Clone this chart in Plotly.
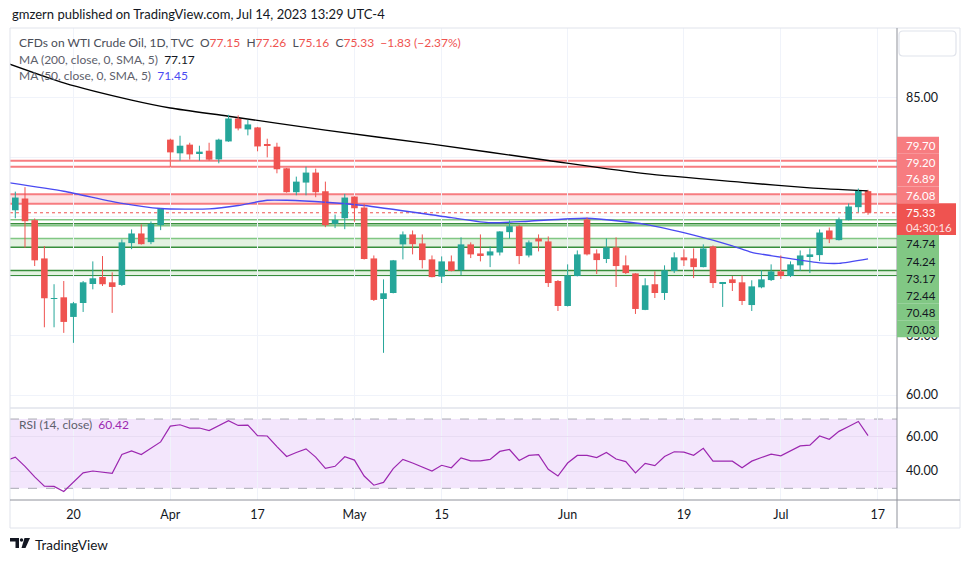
import plotly.graph_objects as go

# ---------------- data ----------------
bar_idx = list(range(89))  # trading days Mar 10 2023 ... Jul 14 2023
opens = [75.54, 76.53, 74.71, 71.49, 68.08, 68.22, 66.57, 67.74, 69.34, 69.93,
         69.48, 69.26, 72.78, 73.59, 72.86, 74.29, 81.48, 80.33, 81.06, 80.33,
         80.55, 79.82, 81.33, 83.26, 82.34, 82.51, 81.06, 80.89, 79.07, 77.06,
         77.87, 78.71, 77.14, 74.40, 74.87, 76.69, 75.77, 71.49, 68.08, 68.58,
         72.67, 73.51, 72.75, 71.41, 69.96, 71.24, 70.51, 72.67, 71.91, 71.74,
         71.99, 73.70, 74.20, 71.74, 73.17, 72.92, 69.59, 67.49, 70.01, 74.77,
         71.91, 71.44, 72.42, 70.91, 70.23, 67.16, 69.32, 68.58, 70.43, 71.58,
         71.49, 70.76, 72.50, 69.42, 69.73, 69.48, 67.57, 69.06, 69.67, 70.40,
         70.01, 70.91, 71.69, 71.77, 73.84, 73.03, 74.71, 75.80, 77.15]
highs = [77.11, 77.48, 74.85, 72.53, 69.32, 69.59, 67.83, 69.59, 71.24, 71.69,
         70.32, 73.09, 73.93, 74.35, 74.60, 75.69, 81.56, 81.81, 81.22, 80.97,
         81.22, 81.56, 83.57, 83.52, 83.15, 82.55, 81.56, 81.22, 79.10, 78.37,
         79.21, 79.04, 77.95, 75.18, 76.92, 76.72, 76.08, 71.74, 69.73, 71.36,
         73.76, 73.84, 73.51, 71.74, 71.66, 71.74, 73.26, 72.84, 73.51, 72.50,
         73.78, 74.68, 74.32, 73.00, 73.51, 73.34, 69.67, 70.99, 72.16, 74.93,
         72.25, 73.17, 73.26, 71.74, 70.25, 69.82, 70.40, 70.91, 72.00, 72.25,
         72.33, 72.67, 72.58, 69.51, 70.01, 70.07, 69.65, 70.49, 70.99, 71.74,
         71.24, 72.16, 72.33, 73.93, 74.09, 74.93, 76.11, 77.37, 77.26]
lows = [74.87, 72.39, 70.85, 65.70, 65.70, 65.23, 64.39, 66.99, 68.89, 69.17,
        66.91, 69.17, 72.27, 72.65, 72.69, 73.87, 79.15, 79.71, 79.80, 79.71,
        79.71, 79.49, 81.30, 82.26, 81.84, 80.50, 79.99, 78.65, 77.02, 76.80,
        76.80, 76.64, 74.12, 74.04, 73.95, 74.57, 71.40, 67.91, 63.55, 68.55,
        71.41, 71.83, 70.65, 69.90, 69.42, 70.40, 70.09, 71.52, 71.24, 70.76,
        71.74, 73.17, 71.01, 71.58, 72.08, 69.09, 67.07, 67.45, 69.98, 71.74,
        70.18, 71.10, 69.09, 70.18, 66.82, 67.14, 68.16, 68.00, 70.26, 70.85,
        69.84, 70.74, 69.00, 67.41, 68.75, 67.57, 67.07, 68.98, 69.59, 69.76,
        69.92, 70.43, 70.26, 71.27, 72.78, 73.00, 74.69, 75.38, 75.16]
closes = [76.61, 74.62, 71.33, 68.14, 68.16, 66.15, 67.72, 69.48, 69.82, 69.32,
          69.09, 72.84, 73.59, 72.69, 74.40, 75.67, 80.41, 80.97, 80.24, 80.47,
          79.80, 81.48, 83.26, 82.42, 82.76, 80.91, 80.95, 78.99, 77.06, 77.95,
          78.71, 77.06, 74.29, 74.74, 76.61, 75.71, 71.44, 68.00, 68.56, 71.33,
          73.51, 72.69, 71.35, 69.92, 71.24, 70.43, 72.67, 71.83, 71.77, 72.08,
          73.76, 74.20, 71.69, 72.84, 72.92, 69.42, 67.49, 70.07, 71.83, 71.83,
          71.35, 72.42, 70.85, 70.26, 67.24, 69.23, 68.58, 70.49, 71.58, 71.33,
          70.76, 72.33, 69.42, 69.51, 69.42, 67.91, 69.14, 69.73, 70.40, 70.01,
          70.99, 71.74, 71.83, 73.67, 73.11, 74.77, 75.86, 77.16, 75.33]

ma200_idx = [-1, 5, 12, 16, 22, 32, 43, 55, 65, 75, 82, 88]
ma200_vals = [87.95, 86.25, 84.80, 84.14, 83.45, 82.28, 81.10, 79.73, 78.62, 77.89, 77.42, 77.17]

ma50_idx = [-1, 5, 11, 15, 20, 23, 26, 28, 32, 36, 45, 49, 53, 59, 65, 70, 74, 76, 80, 83, 85, 88]
ma50_vals = [77.90, 77.14, 76.12, 75.69, 75.66, 75.94, 76.38, 76.38, 76.22, 75.94, 74.92,
             74.49, 74.62, 74.87, 74.35, 73.45, 72.55, 72.00, 71.47, 71.12, 71.07, 71.45]

rsi_idx = list(range(-1, 89))
rsi_vals = [45.9,
            48.0, 42.7, 36.6, 31.3, 31.1, 28.2, 33.4, 38.9, 40.0, 39.3,
            38.7, 49.5, 51.6, 49.5, 53.4, 56.8, 65.9, 66.7, 64.8, 64.8,
            63.3, 66.1, 69.1, 66.3, 66.5, 60.4, 60.2, 54.1, 48.4, 50.7,
            52.8, 48.0, 41.5, 42.7, 48.2, 46.3, 37.1, 31.8, 33.4, 41.4,
            46.7, 44.6, 42.3, 40.0, 43.3, 41.9, 47.6, 45.9, 45.9, 46.7,
            51.3, 52.4, 46.1, 49.0, 49.4, 41.0, 37.1, 44.6, 49.0, 49.0,
            47.8, 50.7, 46.9, 45.4, 38.9, 44.4, 43.1, 48.4, 51.1, 50.9,
            49.1, 53.1, 45.7, 45.7, 45.7, 41.9, 45.7, 47.8, 49.7, 48.8,
            51.8, 54.5, 54.9, 60.2, 58.3, 62.9, 65.7, 68.6, 60.42]

resistance_levels = [79.70, 79.20, 76.89, 76.08]
support_levels = [74.74, 74.24, 73.17, 72.44, 70.48, 70.03]
extra_support_line = [74.40]

x_tick_idx = [6, 16, 25, 35, 44, 57, 69, 79, 89]
x_tick_text = ["20", "Apr", "17", "May", "15", "Jun", "19", "Jul", "17"]
price_ticks = [60, 65, 70, 75, 80, 85]
price_tick_text = ["60.00", "65.00", "", "", "", "85.00"]  # 70/75/80 are hidden behind the level labels
rsi_ticks = [40, 60]
countdown = "04:30:16"

# ---------------- geometry ----------------
W, H = 970, 563
ML, MR, MT, MB = 10, 73, 28, 63
PW, PH = W - ML - MR, H - MT - MB
PANE_SPLIT = 408  # px
main_dom = [(H - MB - PANE_SPLIT) / PH + 0.002, 1.0]
rsi_dom = [0.0, (H - MB - PANE_SPLIT) / PH - 0.002]
price_rng = [58.99, 90.87]
rsi_rng = [23.26, 75.83]
x_rng = [-0.547, 90.99]


def pxx(px):
    return (px - ML) / PW


def pxy(py):
    return (H - MB - py) / PH


def price_py(p):
    top = MT
    bot = PANE_SPLIT
    return top + (price_rng[1] - p) / (price_rng[1] - price_rng[0]) * (bot - top)


GREEN = "#26a69a"
RED = "#ef5350"
FONT = "Lato, Roboto, sans-serif"
TXT = "#131722"

fig = go.Figure()

# moving averages
fig.add_trace(go.Scatter(x=ma200_idx, y=ma200_vals, mode="lines",
                         line=dict(color="#000000", width=1.4, shape="spline", smoothing=0.6),
                         hoverinfo="skip", xaxis="x", yaxis="y"))
fig.add_trace(go.Scatter(x=ma50_idx, y=ma50_vals, mode="lines",
                         line=dict(color="#4a4af2", width=1.4, shape="spline", smoothing=0.6),
                         hoverinfo="skip", xaxis="x", yaxis="y"))

# candles: bodies as bars, wicks as segments
for up, col in [(True, GREEN), (False, RED)]:
    xs, base, hgt, wx, wy = [], [], [], [], []
    for i, o, h, l, c in zip(bar_idx, opens, highs, lows, closes):
        if (c >= o) != up:
            continue
        xs.append(i)
        base.append(min(o, c))
        hgt.append(max(abs(c - o), 0.08))
        wx += [i, i, None]
        wy += [l, h, None]
    fig.add_trace(go.Bar(x=xs, y=hgt, base=base, width=0.68, marker=dict(color=col, line=dict(width=0)),
                         hoverinfo="skip", xaxis="x", yaxis="y"))
    fig.add_trace(go.Scatter(x=wx, y=wy, mode="lines", line=dict(color=col, width=1),
                             hoverinfo="skip", xaxis="x", yaxis="y"))

# RSI
fig.add_trace(go.Scatter(x=rsi_idx, y=rsi_vals, mode="lines", line=dict(color="#9c27b0", width=1.2),
                         hoverinfo="skip", xaxis="x", yaxis="y2"))

shapes = []
RLINE = "#f77c80"
LGREEN = "#81c784"
DGREEN = "#388e3c"
# resistance lines
for lv in resistance_levels[:2]:
    shapes.append(dict(type="line", xref="paper", yref="y", x0=0, x1=1, y0=lv, y1=lv,
                       line=dict(color=RLINE, width=2), layer="below"))
shapes.append(dict(type="rect", xref="paper", yref="y", x0=0, x1=1,
                   y0=resistance_levels[3], y1=resistance_levels[2],
                   fillcolor="#fde3e4", line=dict(width=0), layer="below"))
for lv in resistance_levels[2:]:
    shapes.append(dict(type="line", xref="paper", yref="y", x0=0, x1=1, y0=lv, y1=lv,
                       line=dict(color=RLINE, width=2), layer="below"))
# support
shapes.append(dict(type="rect", xref="paper", yref="y", x0=0, x1=1,
                   y0=support_levels[3], y1=support_levels[2],
                   fillcolor="#e3f2e1", line=dict(width=0), layer="below"))
shapes.append(dict(type="rect", xref="paper", yref="y", x0=0, x1=1,
                   y0=support_levels[5], y1=support_levels[4],
                   fillcolor="#e3f2e1", line=dict(width=0), layer="below"))
sup_colors = [LGREEN, LGREEN, LGREEN, DGREEN, DGREEN, DGREEN]
for lv, cc in zip(support_levels, sup_colors):
    shapes.append(dict(type="line", xref="paper", yref="y", x0=0, x1=1, y0=lv, y1=lv,
                       line=dict(color=cc, width=1.5), layer="below"))
for lv in extra_support_line:
    shapes.append(dict(type="line", xref="paper", yref="y", x0=0, x1=1, y0=lv, y1=lv,
                       line=dict(color=DGREEN, width=1.5), layer="below"))
# current price dotted
last_close = closes[-1]
shapes.append(dict(type="line", xref="paper", yref="y", x0=0, x1=1, y0=last_close, y1=last_close,
                   line=dict(color=RED, width=1, dash="dot"), layer="below"))
# RSI band
shapes.append(dict(type="rect", xref="paper", yref="y2", x0=0, x1=1, y0=30, y1=70,
                   fillcolor="#f3e6fc", line=dict(width=0), layer="below"))
for lv in (30, 70):
    shapes.append(dict(type="line", xref="paper", yref="y2", x0=0, x1=1, y0=lv, y1=lv,
                       line=dict(color="#a9a9b3", width=1, dash="dash"), layer="below"))

# frame lines
FRAME = "#e0e3eb"
AXL = "#8f929b"
shapes.append(dict(type="rect", xref="paper", yref="paper", x0=0, x1=pxx(960), y0=pxy(528), y1=pxy(MT),
                   line=dict(color=FRAME, width=1), layer="above"))
shapes.append(dict(type="line", xref="paper", yref="paper", x0=0, x1=pxx(960),
                   y0=pxy(PANE_SPLIT), y1=pxy(PANE_SPLIT), line=dict(color=FRAME, width=1.5), layer="above"))
shapes.append(dict(type="line", xref="paper", yref="paper", x0=0, x1=pxx(960),
                   y0=0, y1=0, line=dict(color=AXL, width=1), layer="above"))
shapes.append(dict(type="line", xref="paper", yref="paper", x0=1, x1=1,
                   y0=pxy(528), y1=pxy(MT), line=dict(color=AXL, width=1), layer="above"))

# top-right rounded button
bx0, bx1, by0, by1, r = 899, 956, 31, 56, 4
path = (f"M {pxx(bx0 + r)} {pxy(by0)} L {pxx(bx1 - r)} {pxy(by0)} Q {pxx(bx1)} {pxy(by0)} {pxx(bx1)} {pxy(by0 + r)} "
        f"L {pxx(bx1)} {pxy(by1 - r)} Q {pxx(bx1)} {pxy(by1)} {pxx(bx1 - r)} {pxy(by1)} "
        f"L {pxx(bx0 + r)} {pxy(by1)} Q {pxx(bx0)} {pxy(by1)} {pxx(bx0)} {pxy(by1 - r)} "
        f"L {pxx(bx0)} {pxy(by0 + r)} Q {pxx(bx0)} {pxy(by0)} {pxx(bx0 + r)} {pxy(by0)} Z")
shapes.append(dict(type="path", xref="paper", yref="paper", path=path,
                   line=dict(color=FRAME, width=1.2), fillcolor="white", layer="above"))

annotations = []

# price label column
cur_py = price_py(last_close)
cur_top = cur_py - 10
cur_bot = cur_top + 31.7
RBOX = "#f77c80"
GBOX = "#81c784"
red_step, green_step = 16.65, 17.05
col_x0, col_x1 = 897, 939
LBL = 11.5
for k, lv in enumerate(reversed(resistance_levels)):
    b = cur_top - k * red_step
    t = b - red_step
    shapes.append(dict(type="rect", xref="paper", yref="paper", x0=pxx(col_x0), x1=pxx(col_x1),
                       y0=pxy(b), y1=pxy(t), fillcolor=RBOX, line=dict(width=0), layer="above"))
    annotations.append(dict(xref="paper", yref="paper", x=pxx(905), y=pxy((t + b) / 2 + 0.5),
                            xanchor="left", yanchor="middle", showarrow=False, text=f"{lv:.2f}",
                            borderpad=0, font=dict(family=FONT, size=LBL, color="white")))
for k, lv in enumerate(support_levels):
    t = cur_bot + k * green_step
    b = t + green_step
    shapes.append(dict(type="rect", xref="paper", yref="paper", x0=pxx(col_x0), x1=pxx(col_x1),
                       y0=pxy(b), y1=pxy(t), fillcolor=GBOX, line=dict(width=0), layer="above"))
    annotations.append(dict(xref="paper", yref="paper", x=pxx(905), y=pxy((t + b) / 2 + 0.5),
                            xanchor="left", yanchor="middle", showarrow=False, text=f"{lv:.2f}",
                            borderpad=0, font=dict(family=FONT, size=LBL, color=TXT)))
shapes.append(dict(type="rect", xref="paper", yref="paper", x0=pxx(col_x0), x1=pxx(956),
                   y0=pxy(cur_bot), y1=pxy(cur_top), fillcolor=RED, line=dict(width=0), layer="above"))
annotations.append(dict(xref="paper", yref="paper", x=pxx(905), y=pxy((cur_top + cur_bot) / 2 + 0.5),
                        xanchor="left", yanchor="middle", align="left", showarrow=False,
                        text=f"{last_close:.2f}<br><span style='color:#fde0e0'>{countdown}</span>",
                        borderpad=0, font=dict(family=FONT, size=LBL, color="white")))

# header & legends
annotations.append(dict(xref="paper", yref="paper", x=0, y=pxy(14), xanchor="left", yanchor="middle",
                        showarrow=False, text="gmzern published on TradingView.com, Jul 14, 2023 13:29 UTC-4",
                        font=dict(family=FONT, size=13, color=TXT)))
chg = last_close - closes[-2]
pct = chg / closes[-2] * 100
sp = "\u00a0"
def rs(v):
    return f"<span style='color:{RED}'>{v}</span>"
def sgn(v):
    return ("\u2212" if v < 0 else "+") + f"{abs(v):.2f}"
leg1 = (f"CFDs on WTI Crude Oil, 1D, TVC{sp}{sp}O{rs(f'{opens[-1]:.2f}')}{sp}{sp}H{rs(f'{highs[-1]:.2f}')}"
        f"{sp}{sp}L{rs(f'{lows[-1]:.2f}')}{sp}{sp}C{rs(f'{last_close:.2f}')}{sp}{sp}"
        f"{rs(sgn(chg) + ' (' + sgn(pct) + '%)')}")
LEG = 12
annotations.append(dict(xref="paper", yref="paper", x=pxx(17), y=pxy(42.7), xanchor="left", yanchor="middle",
                        showarrow=False, text=leg1, font=dict(family=FONT, size=LEG, color="#4a4d57")))
annotations.append(dict(xref="paper", yref="paper", x=pxx(17), y=pxy(59.3), xanchor="left", yanchor="middle",
                        showarrow=False,
                        text=f"MA (200, close, 0, SMA, 5){sp}{sp}<span style='color:{TXT}'>{ma200_vals[-1]:.2f}</span>",
                        font=dict(family=FONT, size=LEG, color="#5d606b")))
annotations.append(dict(xref="paper", yref="paper", x=pxx(17), y=pxy(76), xanchor="left", yanchor="middle",
                        showarrow=False,
                        text=f"MA (50, close, 0, SMA, 5){sp}{sp}<span style='color:#4a4af2'>{ma50_vals[-1]:.2f}</span>",
                        font=dict(family=FONT, size=LEG, color="#5d606b")))
annotations.append(dict(xref="paper", yref="paper", x=pxx(17), y=pxy(424), xanchor="left", yanchor="middle",
                        showarrow=False,
                        text=f"RSI (14, close){sp}{sp}<span style='color:#9c27b0'>{rsi_vals[-1]:.2f}</span>",
                        font=dict(family=FONT, size=LEG, color="#5d606b")))

# TradingView logo
logo = [
    f"M {pxx(10)} {pxy(538)} L {pxx(19)} {pxy(538)} L {pxx(19)} {pxy(548)} L {pxx(15.5)} {pxy(548)} "
    f"L {pxx(15.5)} {pxy(541.5)} L {pxx(10)} {pxy(541.5)} Z",
    f"M {pxx(24.5)} {pxy(538)} L {pxx(30)} {pxy(538)} L {pxx(25.5)} {pxy(548)} L {pxx(21.5)} {pxy(548)} Z",
]
for p in logo:
    shapes.append(dict(type="path", xref="paper", yref="paper", path=p, fillcolor="#131722",
                       line=dict(width=0), layer="above"))
shapes.append(dict(type="circle", xref="paper", yref="paper", x0=pxx(19.8), x1=pxx(23.2),
                   y0=pxy(541.7), y1=pxy(538.3), fillcolor="#131722", line=dict(width=0), layer="above"))
annotations.append(dict(xref="paper", yref="paper", x=pxx(33), y=pxy(545), xanchor="left", yanchor="middle",
                        showarrow=False, text="TradingView", font=dict(family=FONT, size=13.5, color=TXT)))

fig.update_layout(
    width=W, height=H, margin=dict(l=ML, r=MR, t=MT, b=MB),
    paper_bgcolor="white", plot_bgcolor="white", showlegend=False,
    barmode="overlay",
    font=dict(family=FONT, size=12, color=TXT),
    xaxis=dict(range=x_rng, anchor="y2", tickvals=x_tick_idx, ticktext=x_tick_text,
               showgrid=True, gridcolor="#f0f3fa", gridwidth=1, zeroline=False, showline=False,
               ticks="", ticklabelstandoff=5, tickfont=dict(family=FONT, size=12.5, color=TXT),
               fixedrange=True),
    yaxis=dict(domain=main_dom, range=price_rng, side="right", anchor="x",
               tickvals=price_ticks, ticktext=price_tick_text,
               showgrid=True, gridcolor="#f0f3fa", zeroline=False, showline=False, ticks="",
               ticklabelstandoff=8, tickfont=dict(family=FONT, size=12.5, color=TXT)),
    yaxis2=dict(domain=rsi_dom, range=rsi_rng, side="right", anchor="x",
                tickvals=rsi_ticks, ticktext=[f"{v:.2f}" for v in rsi_ticks],
                showgrid=True, gridcolor="#e8dcf3", zeroline=False, showline=False, ticks="",
                ticklabelstandoff=8, tickfont=dict(family=FONT, size=12.5, color=TXT)),
    shapes=shapes, annotations=annotations,
)

fig.write_html("out.html", config={"displayModeBar": False},
               post_script="document.body.style.margin='0';document.body.style.padding='0';")
